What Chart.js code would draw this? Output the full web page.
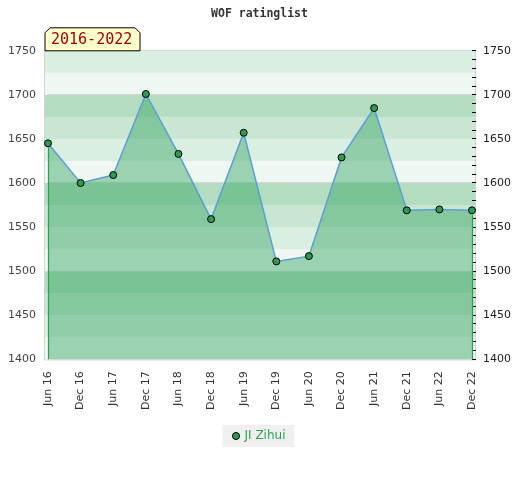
<!DOCTYPE html>
<html>
<head>
<meta charset="utf-8">
<script src="https://cdn.jsdelivr.net/npm/chart.js@4"></script>
<style>
  html, body { margin: 0; padding: 0; background: #fff; }
  #wrap { width: 520px; height: 480px; }
</style>
</head>
<body>
<div id="wrap"><canvas id="ratingChart" width="520" height="480"></canvas></div>
<script>
const periods = ["Jun 16", "Dec 16", "Jun 17", "Dec 17", "Jun 18", "Dec 18", "Jun 19",
                 "Dec 19", "Jun 20", "Dec 20", "Jun 21", "Dec 21", "Jun 22", "Dec 22"];
const ratings = [1645, 1600, 1609, 1701, 1633, 1559, 1657, 1511, 1517, 1629, 1685, 1569, 1570, 1569];
const playerName = "JI Zihui";
const rangeLabel = "2016-2022";
const yMin = 1400;
const yMax = 1750;

// background bands, every 25 points, from the bottom up
const bandColors = ["#eef7f1", "#dbeee2", "#c8e6d2", "#b3dcc0"];

const backdrop = {
    id: "backdrop",
    beforeDraw(chart) {
        const c = chart.ctx;
        const area = chart.chartArea;
        const y = chart.scales.y;
        const l = area.left - 3, r = area.right + 3;
        c.save();
        let i = 0;
        for (let v = yMin; v < yMax; v += 25) {
            const top = y.getPixelForValue(v + 25);
            const bot = y.getPixelForValue(v);
            c.fillStyle = bandColors[i % 4];
            c.fillRect(l, top, r - l, bot - top);
            i++;
        }
        // frame
        c.strokeStyle = "#d4d4d4";
        c.lineWidth = 1;
        c.strokeRect(Math.round(l) - 0.5, Math.round(area.top) - 0.5, r - l + 1, area.bottom - area.top + 1);

        // legend background
        const box = chart.legend && chart.legend.legendHitBoxes[0];
        if (box) {
            c.fillStyle = "#f0f0f0";
            c.fillRect(box.left - 11, box.top - 5, box.width + 20, box.height + 10);
        }
        c.restore();
    },
    afterDatasetsDraw(chart) {
        const c = chart.ctx;
        const meta = chart.getDatasetMeta(0);
        const area = chart.chartArea;
        const first = meta.data[0], last = meta.data[meta.data.length - 1];
        c.save();
        c.strokeStyle = "#2ea050";
        c.lineWidth = 1.2;
        [first, last].forEach(p => {
            c.beginPath();
            c.moveTo(Math.round(p.x) + 0.5, p.y + 4);
            c.lineTo(Math.round(p.x) + 0.5, area.bottom);
            c.stroke();
        });
        c.restore();
    },
    afterDraw(chart) {
        // yellow tag with the period
        const c = chart.ctx;
        const area = chart.chartArea;
        const x0 = area.left - 3, x1 = x0 + 95, y0 = area.top - 23, y1 = area.top;
        c.save();
        c.beginPath();
        c.moveTo(x0, y1);
        c.lineTo(x0, y0 + 5);
        c.lineTo(x0 + 5, y0);
        c.lineTo(x1 - 5, y0);
        c.lineTo(x1, y0 + 5);
        c.lineTo(x1, y1);
        c.closePath();
        c.fillStyle = "#ffffcc";
        c.fill();
        c.strokeStyle = "#000";
        c.lineWidth = 1;
        c.stroke();
        c.fillStyle = "#990000";
        c.font = "15px 'DejaVu Sans Mono'";
        c.textBaseline = "middle";
        c.fillText(rangeLabel, x0 + 6, y0 + 12);
        c.restore();
    }
};

const ctx = document.getElementById("ratingChart").getContext("2d");
new Chart(ctx, {
    type: "line",
    data: {
        labels: periods,
        datasets: [{
            label: playerName,
            data: ratings,
            borderColor: "#5b9fd6",
            borderWidth: 1.5,
            backgroundColor: "rgba(40,159,88,0.42)",
            fill: "start",
            tension: 0,
            pointRadius: 3.5,
            pointBackgroundColor: "#2e9a55",
            pointBorderColor: "#000",
            pointBorderWidth: 1
        }]
    },
    options: {
        responsive: false,
        animation: false,
        layout: { padding: { left: 8, right: 9, top: 0, bottom: 28 } },
        plugins: {
            title: {
                display: true,
                text: "WOF ratinglist",
                color: "#333",
                font: { family: "DejaVu Sans Mono", size: 11.5, weight: "bold" },
                padding: { top: 7, bottom: 30 }
            },
            legend: {
                position: "bottom",
                labels: {
                    usePointStyle: true,
                    pointStyle: "circle",
                    boxWidth: 5,
                    boxHeight: 5,
                    padding: 11,
                    color: "#2ea050",
                    font: { family: "DejaVu Sans", size: 12 }
                }
            },
            tooltip: { enabled: false }
        },
        scales: {
            x: {
                offset: false,
                grid: { display: false, drawTicks: false },
                border: { display: false },
                ticks: {
                    maxRotation: 90,
                    minRotation: 90,
                    autoSkip: false,
                    padding: 12,
                    color: "#333",
                    font: { family: "DejaVu Sans", size: 11 }
                },
                afterFit: s => { s.height -= 3; }
            },
            y: {
                position: "left",
                min: yMin,
                max: yMax,
                border: { display: false },
                grid: {
                    drawTicks: false,
                    color: c => (c.tick && c.tick.value % 100 === 0 ? "#d8d8d8" : "rgba(0,0,0,0)")
                },
                ticks: {
                    stepSize: 50,
                    padding: 12,
                    color: "#444",
                    font: { family: "DejaVu Sans", size: 11 },
                    callback: v => String(v)
                },
                afterFit: s => { s.width = 40; }
            },
            y2: {
                position: "right",
                min: yMin,
                max: yMax,
                border: { display: false },
                grid: {
                    drawOnChartArea: false,
                    tickLength: 4,
                    tickColor: "#000"
                },
                ticks: {
                    stepSize: 10,
                    autoSkip: false,
                    padding: 7,
                    color: "#222",
                    font: { family: "DejaVu Sans", size: 11 },
                    callback: v => (v % 50 === 0 ? String(v) : "")
                },
                afterFit: s => { s.width = 39; }
            }
        }
    },
    plugins: [backdrop]
});
</script>
</body>
</html>
